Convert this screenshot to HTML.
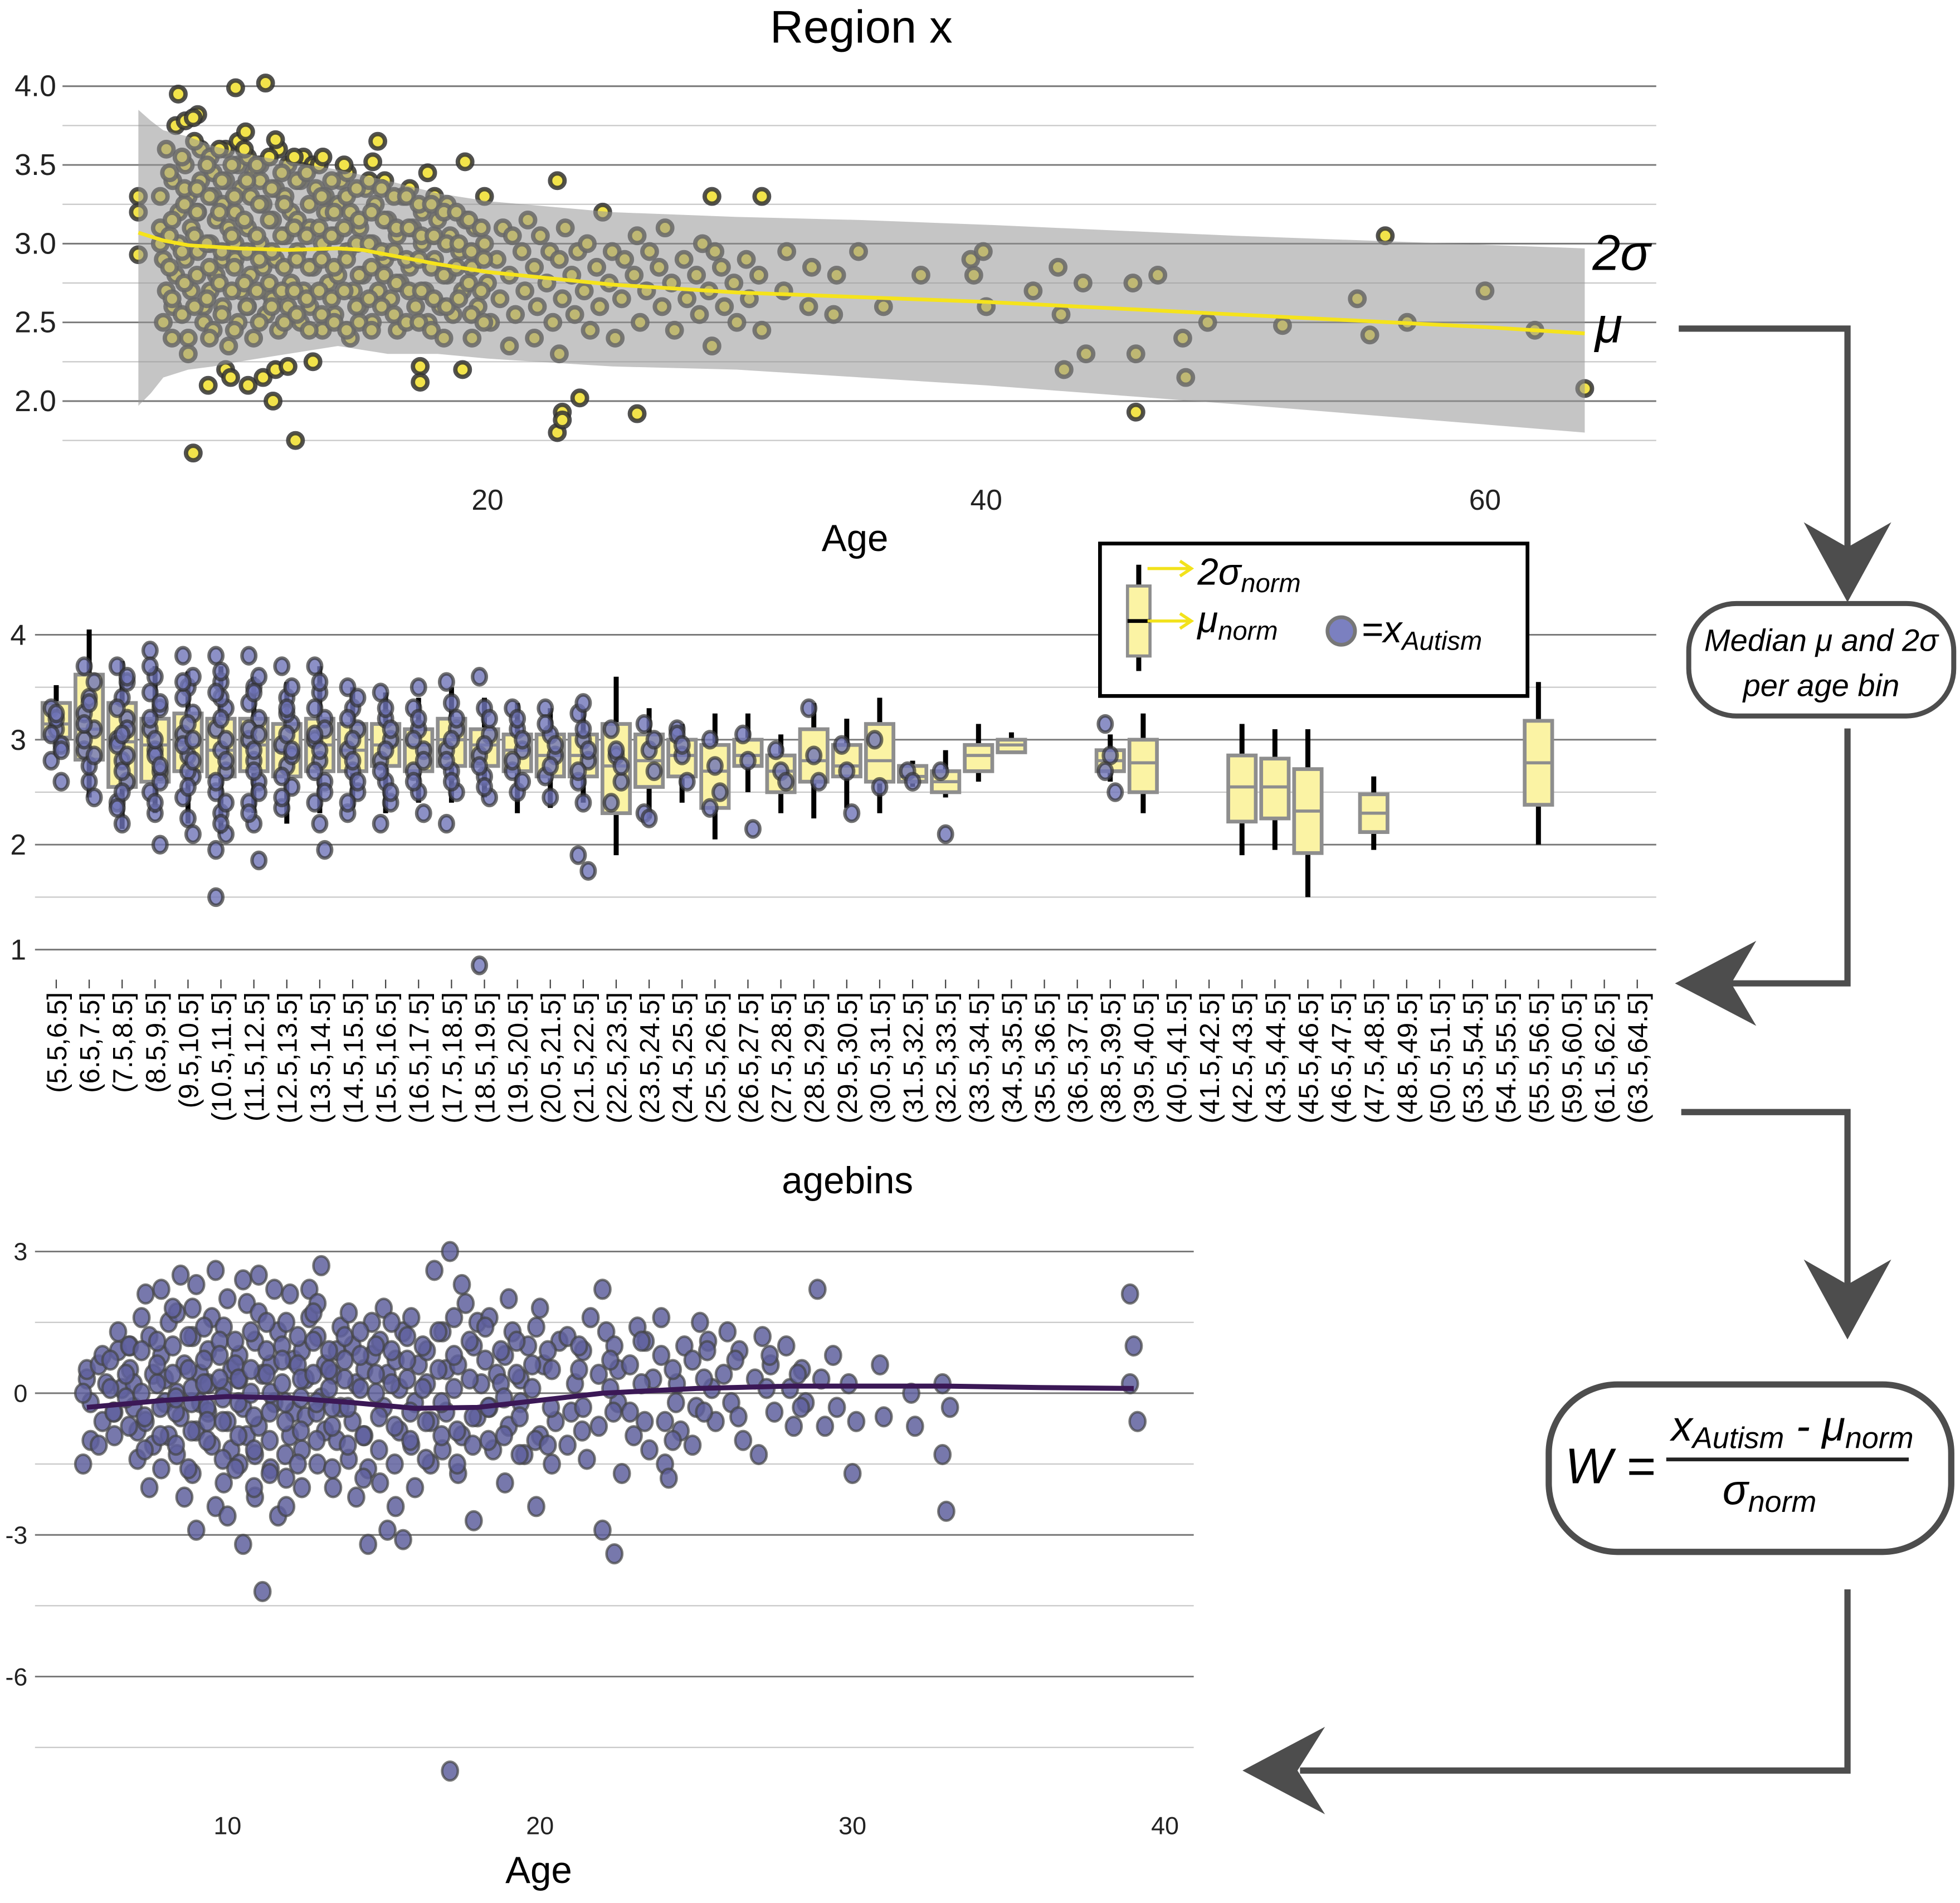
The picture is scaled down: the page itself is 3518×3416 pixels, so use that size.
<!DOCTYPE html>
<html><head><meta charset="utf-8">
<style>
html,body{margin:0;padding:0;background:#fff;}
svg{display:block;font-family:"Liberation Sans",Arial,sans-serif;}
</style></head>
<body>
<svg id="fig" xmlns="http://www.w3.org/2000/svg" width="3518" height="3416" viewBox="0 0 1568 1523" preserveAspectRatio="none">
<rect width="1568" height="1523" fill="#fff"/>
<g id="p1"></g>
<g id="p2"></g>
<g id="p3"></g>
<g id="flow">
  <path d="M1343,263 H1478 V440" fill="none" stroke="#4d4d4d" stroke-width="5"/>
  <path d="M1478,482 L1443,418 L1478,438 L1513,418 Z" fill="#4d4d4d"/>
  <rect x="1351" y="483" width="212" height="90" rx="38" fill="#fff" stroke="#4d4d4d" stroke-width="4"/>
  <text x="1457" y="521" font-size="25" font-style="italic" text-anchor="middle">Median μ and 2σ</text>
  <text x="1457" y="557" font-size="25" font-style="italic" text-anchor="middle">per age bin</text>
  <path d="M1478,583 V787 H1385" fill="none" stroke="#4d4d4d" stroke-width="5"/>
  <path d="M1340,787 L1405,753 L1385,787 L1405,821 Z" fill="#4d4d4d"/>
  <path d="M1345,890 H1478 V1030" fill="none" stroke="#4d4d4d" stroke-width="5"/>
  <path d="M1478,1072 L1443,1008 L1478,1028 L1513,1008 Z" fill="#4d4d4d"/>
  <rect x="1239" y="1108" width="322" height="134" rx="55" fill="#fff" stroke="#4d4d4d" stroke-width="5"/>
  <text x="1252" y="1187" font-size="40" font-style="italic">W =</text>
  <text x="1337" y="1153" font-size="34" font-style="italic">x<tspan font-size="24" dy="6">Autism</tspan><tspan dy="-6"> - μ</tspan><tspan font-size="24" dy="6">norm</tspan></text>
  <line x1="1333" y1="1168" x2="1527" y2="1168" stroke="#222" stroke-width="3"/>
  <text x="1378" y="1204" font-size="34" font-style="italic">σ<tspan font-size="24" dy="6">norm</tspan></text>
  <path d="M1478,1272 V1417 H1040" fill="none" stroke="#4d4d4d" stroke-width="5"/>
  <path d="M994,1417 L1060,1382 L1038,1417 L1060,1452 Z" fill="#4d4d4d"/>
</g>
</svg>
<script>
// ---------- Panel 1 data ----------
const normAges = [7,7.5,8,8.5,9,9.5,10,10.5,11,11.5,12,12.5,13,13.5,14,14.5,15,15.5,16,16.5,17,17.5,18,18.5,19,19.5,20,20.5,21,21.5,22,22.5,23,23.5,24,24.5,25,25.5,26,26.5,27,27.5,28,28.5,29,29.5,30,30.5,31,32,33,34,35,36,37.5,39.5,40,42,43,44,46,47,48,49,52,55,55.5,57];
const normVals = [[3.1,2.9,2.7,3.3,2.5,3.6,3.0],[3.4,2.8,3.2,2.6,3.75,3.0],[3.5,2.4,3.1,2.9,3.3,2.7,3.78,2.3],[3.2,3.6,2.6,2.95,3.4,2.5,3.82],[3.0,3.3,2.8,3.55,2.45,3.15,2.7,3.45],[2.9,3.4,3.1,2.6,3.6,2.35,3.25],[3.0,3.5,2.7,3.2,2.5,3.35,2.9,3.65],[3.1,2.8,3.45,2.6,3.3,2.4,3.55],[3.0,3.25,2.7,3.5,2.85,2.55,3.4],[3.15,2.9,3.6,2.65,3.35,2.45],[3.05,3.5,2.75,3.3,2.6,3.2],[2.95,3.4,2.7,3.15,2.5,3.55],[3.1,2.85,3.35,2.6,3.5],[3.0,3.3,2.75,2.45,3.2],[3.05,2.8,3.4,2.55,3.25],[2.95,3.2,2.7,3.45,2.4],[3.1,2.8,3.35,2.6],[3.0,3.25,2.7,2.5],[2.9,3.15,2.65,3.4],[3.05,2.75,3.3,2.45],[2.85,3.1,2.6,3.35],[3.0,2.7,2.5,3.2],[2.9,3.15,2.6,3.3],[2.8,3.05,2.55,3.25],[2.95,2.7,3.15],[2.85,3.1,2.6,2.4],[3.0,2.75,2.5,3.3],[2.9,2.65,3.1],[2.8,3.05,2.55,2.35],[2.95,2.7,3.15],[2.85,2.6,3.05,2.4],[2.75,2.95,2.5],[2.9,2.65,3.1,2.3],[2.8,2.55,2.95],[2.7,3.0,2.45],[2.85,2.6,3.2],[2.75,2.95,2.4],[2.65,2.9],[2.8,3.05,2.5],[2.7,2.95],[2.85,2.6,3.1],[2.75,2.45],[2.9,2.65],[2.8,2.55,3.0],[2.7,2.35,2.95],[2.85,2.6],[2.75,2.5],[2.9,2.65],[2.8,2.45],[2.7,2.95],[2.6,2.85],[2.55,2.8],[2.95],[2.6],[2.8],[2.9,2.8],[2.95,2.6],[2.7],[2.85,2.55,2.2],[2.75,2.3],[2.75,2.3],[2.8],[2.4,2.15],[2.5],[2.48],[2.65],[2.42],[2.5]];
const extraAges = [7.25,7.75,8.25,8.75,9.25,9.75,10.25,10.75,11.25,11.75,12.25,12.75,13.25,13.75,14.25,14.75,15.25,15.75,16.25,16.75,17.25,17.75,18.25,18.75,19.25,19.75];
const extraVals = [[3.45,3.15,2.85,2.65,3.05,2.4],[3.55,3.25,2.95,2.75,2.55,3.35],[3.65,3.35,3.05,2.8,2.6,3.2],[3.5,3.3,3.0,2.85,2.65,2.4],[3.6,3.4,3.2,2.95,2.75,2.55],[3.5,3.3,3.05,2.85,2.7,2.45],[3.6,3.4,3.15,2.95,2.75,2.6],[3.5,3.25,3.05,2.9,2.7,2.5],[3.55,3.35,3.15,2.95,2.75,2.6],[3.45,3.25,3.05,2.85,2.7,2.5],[3.55,3.4,3.1,2.9,2.7,2.55],[3.45,3.25,3.05,2.85,2.65,2.45],[3.5,3.3,3.1,2.9,2.7,2.55],[3.4,3.2,3.05,2.85,2.65,2.5],[3.5,3.3,3.1,2.9,2.7,2.45],[3.35,3.15,3.0,2.8,2.6,2.5],[3.4,3.2,3.0,2.85,2.65,2.45],[3.35,3.15,2.95,2.8,2.6],[3.3,3.1,2.95,2.75,2.55],[3.3,3.1,2.9,2.7,2.5],[3.25,3.05,2.9,2.7,2.5],[3.25,3.05,2.85,2.65,2.45],[3.2,3.0,2.8,2.6,2.4],[3.2,3.0,2.85,2.65],[3.15,2.95,2.75,2.55],[3.1,2.9,2.7,2.5]];
const outAges = [7.6,9.9,11.1,8.2,10.3,11.5,13.4,15.4,15.6,17.6,19.1,6,6,6,8.8,9.5,9.7,10.4,11,11.4,11.5,12,12.3,13,8.2,17.3,17.3,19,22.8,23,23,23.7,26,22.8,29,31,46,56,64,60,62];
const outVals = [3.95,3.99,4.02,3.8,3.71,3.66,3.55,3.52,3.65,3.45,3.52,3.3,3.2,2.93,2.1,2.2,2.15,2.1,2.15,2.0,2.2,2.22,1.75,2.25,1.67,2.22,2.12,2.2,1.8,1.93,1.88,2.02,1.92,3.4,3.3,3.3,1.93,3.05,2.08,2.7,2.45];
const bandAges = [6,6.5,7,8,9,10,12,14,16,18,20,25,30,35,40,50,64];
const bandUpper = [3.85,3.78,3.72,3.68,3.62,3.58,3.52,3.47,3.4,3.32,3.27,3.2,3.17,3.15,3.12,3.05,2.97];
const bandLower = [1.97,2.05,2.15,2.2,2.22,2.25,2.3,2.35,2.3,2.3,2.27,2.22,2.2,2.15,2.1,1.98,1.8];
const meanAges = [6,7,8,10,12,14,15,16,18,20,25,30,35,40,50,60,64];
const meanVals = [3.07,3.02,2.99,2.97,2.96,2.97,2.96,2.93,2.87,2.82,2.74,2.69,2.66,2.63,2.55,2.47,2.43];
const p1YTicks = [2.0,2.5,3.0,3.5,4.0];
const p1XTicks = [20,40,60];

// ---------- Panel 2 data ----------
const binLabels = ["(5.5,6.5]","(6.5,7.5]","(7.5,8.5]","(8.5,9.5]","(9.5,10.5]","(10.5,11.5]","(11.5,12.5]","(12.5,13.5]","(13.5,14.5]","(14.5,15.5]","(15.5,16.5]","(16.5,17.5]","(17.5,18.5]","(18.5,19.5]","(19.5,20.5]","(20.5,21.5]","(21.5,22.5]","(22.5,23.5]","(23.5,24.5]","(24.5,25.5]","(25.5,26.5]","(26.5,27.5]","(27.5,28.5]","(28.5,29.5]","(29.5,30.5]","(30.5,31.5]","(31.5,32.5]","(32.5,33.5]","(33.5,34.5]","(34.5,35.5]","(35.5,36.5]","(36.5,37.5]","(38.5,39.5]","(39.5,40.5]","(40.5,41.5]","(41.5,42.5]","(42.5,43.5]","(43.5,44.5]","(45.5,46.5]","(46.5,47.5]","(47.5,48.5]","(48.5,49.5]","(50.5,51.5]","(53.5,54.5]","(54.5,55.5]","(55.5,56.5]","(59.5,60.5]","(61.5,62.5]","(63.5,64.5]"];
const boxBins = [0,1,2,3,4,5,6,7,8,9,10,11,12,13,14,15,16,17,18,19,20,21,22,23,24,25,26,27,28,29,32,33,36,37,38,40,45];
const boxLo  = [2.85,2.45,2.15,2.3,2.2,2.1,2.3,2.2,2.3,2.35,2.3,2.4,2.4,2.45,2.3,2.35,2.4,1.9,2.25,2.4,2.05,2.5,2.3,2.25,2.35,2.3,2.55,2.45,2.6,2.88,2.6,2.3,1.9,1.95,1.5,1.95,2.0];
const boxQ1  = [3.02,2.81,2.55,2.6,2.7,2.65,2.7,2.65,2.7,2.7,2.75,2.7,2.75,2.75,2.7,2.65,2.65,2.3,2.55,2.65,2.35,2.75,2.5,2.6,2.65,2.6,2.6,2.5,2.7,2.88,2.7,2.5,2.22,2.25,1.92,2.12,2.38];
const boxMed = [3.15,3.1,2.98,2.95,2.95,2.9,2.95,2.9,2.95,2.9,2.95,2.95,3.0,2.95,2.9,2.85,2.85,2.75,2.8,2.85,2.7,2.85,2.7,2.8,2.75,2.8,2.65,2.6,2.85,2.95,2.8,2.78,2.55,2.55,2.32,2.3,2.78];
const boxQ3  = [3.35,3.62,3.35,3.2,3.25,3.2,3.2,3.15,3.2,3.15,3.15,3.1,3.2,3.1,3.05,3.05,3.05,3.15,3.05,3.0,2.95,3.0,2.85,3.1,2.95,3.15,2.75,2.7,2.95,3.0,2.9,3.0,2.85,2.82,2.72,2.48,3.18];
const boxHi  = [3.52,4.05,3.75,3.7,3.65,3.7,3.6,3.55,3.7,3.5,3.45,3.4,3.5,3.4,3.35,3.3,3.3,3.6,3.3,3.15,3.25,3.25,3.05,3.35,3.2,3.4,2.8,2.9,3.15,3.07,3.05,3.25,3.15,3.1,3.1,2.65,3.55];
const ptBins = [0,1,2,3,4,5,6,7,8,9,10,11,12,13,14,15,16,17,18,19,20,21,22,23,24,25,26,27,32];
const ptVals = [[3.3,3.1,2.95,2.8,3.2,2.6,3.05,3.25,2.9],
[3.7,3.4,3.1,2.9,2.6,2.45,3.25,2.75,3.55,3.0,3.35,2.85,3.15],
[3.7,3.4,3.2,3.0,2.8,2.6,2.4,2.2,3.55,2.95,2.5,3.1,3.3,2.7,3.6,2.35,3.05,2.85],
[3.85,3.6,3.3,3.1,2.9,2.7,2.5,2.3,2.0,3.45,2.85,2.6,3.2,3.0,2.75,3.7,2.4,3.35],
[3.8,3.5,3.25,3.05,2.85,2.65,2.45,2.25,3.6,2.95,2.7,2.1,3.4,3.15,2.8,3.55,2.55,3.0],
[3.8,3.55,3.3,3.1,2.9,2.7,2.5,2.3,2.1,1.95,3.4,2.8,1.5,3.2,3.0,2.6,3.65,2.4,3.45,2.2],
[3.8,3.5,3.2,3.0,2.8,2.6,2.4,2.2,1.85,3.35,2.9,2.5,3.1,2.7,3.6,2.3,3.45,3.05],
[3.7,3.4,3.15,2.95,2.75,2.55,2.35,3.25,2.85,2.65,3.05,3.5,2.45,3.3,2.9],
[3.7,3.45,3.2,3.0,2.8,2.6,2.4,2.2,1.95,3.3,2.9,3.1,2.7,3.55,2.5,3.05],
[3.5,3.3,3.1,2.9,2.7,2.5,2.3,3.0,2.6,3.2,2.8,3.4,2.4],
[3.45,3.2,3.0,2.8,2.6,2.4,2.2,2.9,3.1,2.7,3.3,2.5],
[3.3,3.1,2.9,2.7,2.5,2.3,3.0,3.2,2.8,2.6,3.5],
[3.55,3.35,3.1,2.9,2.7,2.5,2.2,3.0,3.2,2.8,2.6],
[3.6,3.3,3.05,2.85,2.65,2.45,0.85,2.95,3.2,2.75,2.55],
[3.3,3.1,2.9,2.7,2.5,3.0,2.8,3.2,2.6],
[3.3,3.05,2.85,2.65,2.45,2.95,3.15,2.75],
[3.25,3.0,2.8,2.6,2.4,1.75,1.9,3.35,2.9,2.7,3.1],
[3.1,2.85,2.6,2.4,2.9,2.75],[3.15,2.9,2.7,2.3,2.25,3.0],[3.1,2.85,2.6,3.05,2.95],[3.0,2.75,2.5,2.35],[3.05,2.8,2.15],[2.9,2.7,2.6],[3.3,2.85,2.6],[2.95,2.7,2.3],[3.0,2.55],[2.7,2.6],[2.7,2.1],[3.15,2.85,2.5,2.7]];
const p2YTicks = [1,2,3,4];

// ---------- Panel 3 data ----------
const wAges = [5.5,6,6.5,7,7.5,8,8.5,9,9.5,10,10.5,11,11.5,12,12.5,13,13.5,14,14.5,15,15.5,16,16.5,17,17.5,18,18.5,19,19.5,20,20.5,21,21.5,22,22.5,23,23.5,24,24.5,25,25.5,26,26.5,27,27.5,28,28.5,29,29.5,30,31,32,33,39];
const wVals = [[-1.5,0.3,-0.2,0,0.5,-1],[0.6,-0.6,0.2,-1.1,0.8],[-0.4,0.9,0.1,-0.9,1.3],[0.5,-0.3,-1.4,1.0,0.2,-0.8],[2.1,-2.0,0.4,-0.6,1.2,-1.1],[0.8,-0.2,1.5,-1.6,0.3,-0.9,2.2],[1.7,-0.5,0.6,-1.3,2.5,-2.2,0],[1.2,-0.8,0.4,-1.7,2.3,-0.2,1.8,-2.9],[0.9,-1.1,2.6,-0.4,1.6,-2.4,0.2],[1.4,-0.6,0.5,-1.9,2.0,-1.2,0.1,-2.6],[0.8,-0.3,1.9,-1.5,2.4,-0.9,0.3,-3.2],[1.1,-0.7,0.4,-2.2,1.7,-4.2,-1.3,2.5],[0.6,-0.2,1.3,-1.6,2.2,-2.6,0],[1.5,-0.9,0.7,-1.8,2.1,-0.4,-2.4],[0.9,-0.5,1.6,-1.2,0.3,2.2,-2.0],[1.2,-0.1,0.6,-1.5,2.7,-0.8,1.9],[0.4,-1.0,1.4,-2.0,0.9,-0.3],[1.7,-0.6,0.2,-1.4,1.0,-2.2],[0.5,-1.6,1.5,-0.9,-3.2,0.8],[1.1,-0.3,0.4,-1.9,1.8,-2.9],[0.7,-0.8,1.3,-2.4,0.1,-3.1],[1.6,-0.2,0.6,-1.1,-2.0],[0.9,-1.5,2.6,0.2,-0.6],[1.3,-0.4,3.0,-1.2,0.5,-8.0],[0.6,-0.9,1.9,-1.7,2.3],[1.0,-0.5,0.2,-2.7,1.5],[1.6,-1.2,0.4,-0.3],[0.8,-0.7,1.3,-1.9,2.0],[0.3,-1.3,1.0,-0.2],[1.4,-0.9,0.6,-2.4,1.8],[0.5,-0.6,1.1,-1.5],[1.2,-0.4,0.2,-1.1],[0.9,-1.4,1.6,-0.3],[0.4,-2.9,1.3,-0.7,2.2],[1.0,-0.2,-1.7,-3.4,0.5],[0.6,-0.9,1.4,-0.4],[1.1,-1.2,0.3],[0.8,-1.5,-1.8,1.6,-0.6],[0.2,-0.8,1.0],[0.7,-0.3,1.5,-1.1],[1.1,0.1,-0.6],[0.4,1.3,-0.2],[0.9,-1.0],[0.3,-1.3,1.2],[0.6,-0.4],[1.0,0.1,-0.7],[0.5,-0.2],[2.2,0.3,-0.7],[0.8,-0.3],[0.2,-1.7,-0.6],[0.6,-0.5],[0.0,-0.7],[-1.3,-2.5,-0.3,0.2],[2.1,1.0,-0.6,0.2]];
const wAges2 = [6.25,6.75,7.25,7.75,8.25,8.75,9.25,9.75,10.25,10.75,11.25,11.75,12.25,12.75,13.25,13.75,14.25,14.75,15.25,15.75,16.25,16.75,17.25,17.75,18.25,18.75,19.25,19.75,20.25,21.25,22.25,23.25,24.25,25.25,26.25,27.25,28.25];
const wVals2 = [[0.1,-0.4,0.7],[0.4,-0.7,-0.1,1.0],[0.9,-0.5,0.0,-1.2,1.6],[0.2,-0.9,1.1,-0.3,0.6],[1.0,-0.4,0.4,-1.1,1.8,-0.1],[0.5,-0.8,1.2,-0.2,-1.6,0.1],[0.7,-0.3,1.4,-1.0,0.2,-0.6],[1.1,-0.6,0.3,-1.4,0.8,-0.1],[0.6,-0.2,1.1,-0.9,-1.6,0.3],[1.3,-0.5,0.5,-1.2,0.0,-2.0],[0.4,-1.0,0.9,-0.4,1.5,-1.7],[1.0,-0.6,0.2,-1.3,0.7,-0.2],[0.6,-0.1,1.2,-0.8,-1.5,0.3],[1.1,-0.4,0.4,-1.0,1.7,-0.2],[0.5,-0.7,0.9,-1.6,0.1,-0.3],[1.2,-0.3,0.3,-1.1,0.7],[0.8,-0.9,0.1,-1.8,1.3],[0.4,-0.5,1.0,-1.2,0.0],[0.9,-0.7,0.2,-1.5,1.5],[0.3,-1.0,0.7,-0.4,1.2],[1.0,-0.6,0.1,-1.4],[0.5,-0.2,1.3,-0.9],[0.8,-0.8,0.1,-1.5,1.6],[0.3,-0.5,1.1,-1.1],[0.7,-0.3,1.4,-1.0],[0.2,-0.9,0.9,-0.1],[1.1,-0.5,0.4,-1.3],[0.6,-1.0,0.1],[0.9,-0.3,-1.1],[0.5,-0.8,1.0],[0.7,-0.4,0.1],[0.2,-0.6,1.1],[0.5,-0.2,-1.0],[0.3,0.9,-0.4],[0.7,-0.5],[0.1,0.8],[0.4,-0.3]];
const fitAges = [5.5,8,10,12,14,16,18,20,22,25,28,30,33,36,39];
const fitVals = [-0.3,-0.15,-0.07,-0.1,-0.2,-0.32,-0.3,-0.15,0,0.1,0.15,0.15,0.15,0.12,0.1];
const p3YTicks = [3,0,-3,-6];
const p3XTicks = [10,20,30,40];

const NS = "http://www.w3.org/2000/svg";
function mk(parent, tag, attrs, text){
  const e = document.createElementNS(NS, tag);
  for (const k in attrs) e.setAttribute(k, attrs[k]);
  if (text !== undefined) e.textContent = text;
  parent.appendChild(e);
  return e;
}

// ===== Panel 1 =====
const p1 = document.getElementById('p1');
const sx1 = a => 390 + (a - 20) * 19.95;
const sy1 = v => 321 - (v - 2) * 126;
let t = mk(p1,'text',{x:689,y:34,'font-size':37,'text-anchor':'middle'},'Region x');


for (let v = 1.75; v <= 4.01; v += 0.25) {
  const major = Math.abs(v*2 - Math.round(v*2)) < 1e-6;
  const l = mk(p1,'line',{x1:50,x2:1325,y1:sy1(v),y2:sy1(v),stroke:major?'#777':'#c8c8c8','stroke-width':major?1.3:1});
  
  
}
p1YTicks.forEach(v => {
  const tx = mk(p1,'text',{x:45,y:sy1(v)+8,'font-size':24,'text-anchor':'end',fill:'#222'},v.toFixed(1));
  
  
});
p1XTicks.forEach(a => {
  const tx = mk(p1,'text',{x:sx1(a),y:408,'font-size':23,'text-anchor':'middle',fill:'#222'},String(a));
  
  
});
t = mk(p1,'text',{x:684,y:441,'font-size':30,'text-anchor':'middle'},'Age');


function p1pt(a, v){
  const c = mk(p1,'circle',{cx:sx1(a),cy:sy1(v),r:5.8,fill:'#f2e34a',stroke:'#333','stroke-width':3.5,'stroke-opacity':0.85});
  
  
}
normAges.forEach((a,i) => normVals[i].forEach((v,j) => p1pt(a + (j % 3 - 1) * 0.12, v)));
extraAges.forEach((a,i) => extraVals[i].forEach((v,j) => p1pt(a + (j % 2) * 0.1, v)));
outAges.forEach((a,i) => p1pt(a, outVals[i]));
let bd = 'M' + bandAges.map((a,i)=>sx1(a)+','+sy1(bandUpper[i])).join(' L');
for (let i = bandAges.length-1; i >= 0; i--) bd += ' L' + sx1(bandAges[i]) + ',' + sy1(bandLower[i]);
const band = mk(p1,'path',{d:bd+' Z',fill:'#969696','fill-opacity':0.55});


const ml = mk(p1,'path',{d:'M'+meanAges.map((a,i)=>sx1(a)+','+sy1(meanVals[i])).join(' L'),fill:'none',stroke:'#f5e31c','stroke-width':3});


t = mk(p1,'text',{x:1274,y:216,'font-size':40,'font-style':'italic'},'2σ');


t = mk(p1,'text',{x:1276,y:274,'font-size':40,'font-style':'italic'},'μ');



// ===== Panel 2 =====
const p2 = document.getElementById('p2');
const sx2 = i => 45 + i * 26.35;
const sy2 = v => 508 + (4 - v) * 84;
for (let v = 1; v <= 4.01; v += 0.5) {
  const major = Math.abs(v - Math.round(v)) < 1e-6;
  const l = mk(p2,'line',{x1:28,x2:1325,y1:sy2(v),y2:sy2(v),stroke:major?'#777':'#c8c8c8','stroke-width':major?1.3:1});
  
  
}
p2YTicks.forEach(v => {
  const tx = mk(p2,'text',{x:21,y:sy2(v)+8,'font-size':23,'text-anchor':'end',fill:'#222'},String(v));
  
  
});
binLabels.forEach((lab,i) => {
  const tk = mk(p2,'line',{x1:sx2(i),x2:sx2(i),y1:784,y2:791,stroke:'#444','stroke-width':1});
  
  
  const tx = mk(p2,'text',{x:0,y:0,'font-size':22,'text-anchor':'end',transform:`translate(${sx2(i)+8},794) rotate(-90)`},lab);
  
  
});
t = mk(p2,'text',{x:678,y:955,'font-size':30,'text-anchor':'middle'},'agebins');


boxBins.forEach((b,k) => {
  const x = sx2(b), w = 22;
  const wl = mk(p2,'line',{x1:x,x2:x,y1:sy2(boxHi[k]),y2:sy2(boxLo[k]),stroke:'#000','stroke-width':4});
  
  
  const r = mk(p2,'rect',{x:x-w/2,y:sy2(boxQ3[k]),width:w,height:sy2(boxQ1[k])-sy2(boxQ3[k]),fill:'#fbf3a4',stroke:'#8e8e8e','stroke-width':3});
  
  
  const md = mk(p2,'line',{x1:x-w/2,x2:x+w/2,y1:sy2(boxMed[k]),y2:sy2(boxMed[k]),stroke:'#8e8e8e','stroke-width':2.5});
  
  
});
ptBins.forEach((b,k) => {
  ptVals[k].forEach((v,j) => {
    const off = (j % 3 - 1) * 4;
    const c = mk(p2,'ellipse',{cx:sx2(b)+off,cy:sy2(v),rx:5.5,ry:6.5,fill:'#6f74b8','fill-opacity':0.8,stroke:'#333','stroke-width':2.8,'stroke-opacity':0.7});
    
    
  });
});
// legend
const lg = mk(p2,'g',{});


const lr = mk(lg,'rect',{x:880,y:435,width:342,height:122,fill:'#fff',stroke:'#000','stroke-width':3});


let e = mk(lg,'line',{x1:911,x2:911,y1:452,y2:537,stroke:'#000','stroke-width':4});


e = mk(lg,'rect',{x:902,y:469,width:18,height:56,fill:'#fbf3a4',stroke:'#8e8e8e','stroke-width':2.5});


e = mk(lg,'line',{x1:902,x2:920,y1:497,y2:497,stroke:'#000','stroke-width':3});


e = mk(lg,'path',{d:'M918,455 H952 M944,449 L953,455 L944,461 M918,497 H952 M944,491 L953,497 L944,503',stroke:'#f2e21c','stroke-width':2.5,fill:'none'});


e = mk(lg,'text',{x:958,y:468,'font-size':30,'font-style':'italic'});
e.innerHTML = '2σ<tspan font-size="21" dy="6">norm</tspan>';


e = mk(lg,'text',{x:958,y:506,'font-size':30,'font-style':'italic'});
e.innerHTML = 'μ<tspan font-size="21" dy="6">norm</tspan>';


e = mk(lg,'circle',{cx:1073,cy:505,r:11,fill:'#7b80c0',stroke:'#777','stroke-width':3});


e = mk(lg,'text',{x:1089,y:514,'font-size':30,'font-style':'italic'});
e.innerHTML = '=x<tspan font-size="21" dy="6">Autism</tspan>';



// ===== Panel 3 =====
const p3 = document.getElementById('p3');
const sx3 = a => 182 + (a - 10) * 25;
const sy3 = w => 1115 - w * 37.8;
for (let w = -7.5; w <= 3.01; w += 1.5) {
  const major = Math.abs(w/3 - Math.round(w/3)) < 1e-6;
  const l = mk(p3,'line',{x1:28,x2:955,y1:sy3(w),y2:sy3(w),stroke:major?'#777':'#c8c8c8','stroke-width':major?1.3:1});
  
  
}
p3YTicks.forEach(w => {
  const tx = mk(p3,'text',{x:22,y:sy3(w)+7,'font-size':20,'text-anchor':'end',fill:'#222'},String(w));
  
  
});
p3XTicks.forEach(a => {
  const tx = mk(p3,'text',{x:sx3(a),y:1468,'font-size':20,'text-anchor':'middle',fill:'#222'},String(a));
  
  
});
t = mk(p3,'text',{x:431,y:1507,'font-size':30,'text-anchor':'middle'},'Age');


function p3pt(a, w){
  const c = mk(p3,'ellipse',{cx:sx3(a),cy:sy3(w),rx:6.3,ry:7.5,fill:'#5f609e','fill-opacity':0.85,stroke:'#444','stroke-width':2,'stroke-opacity':0.7});
  
  
}
wAges.forEach((a,i) => wVals[i].forEach((w,j) => p3pt(a + (j % 3 - 1) * 0.12, w)));
wAges2.forEach((a,i) => wVals2[i].forEach((w,j) => p3pt(a + (j % 2) * 0.1, w)));
const fl = mk(p3,'path',{d:'M'+fitAges.map((a,i)=>sx3(a)+','+sy3(fitVals[i])).join(' L'),fill:'none',stroke:'#3b1856','stroke-width':4,'stroke-linejoin':'round'});


</script>
</body></html>
